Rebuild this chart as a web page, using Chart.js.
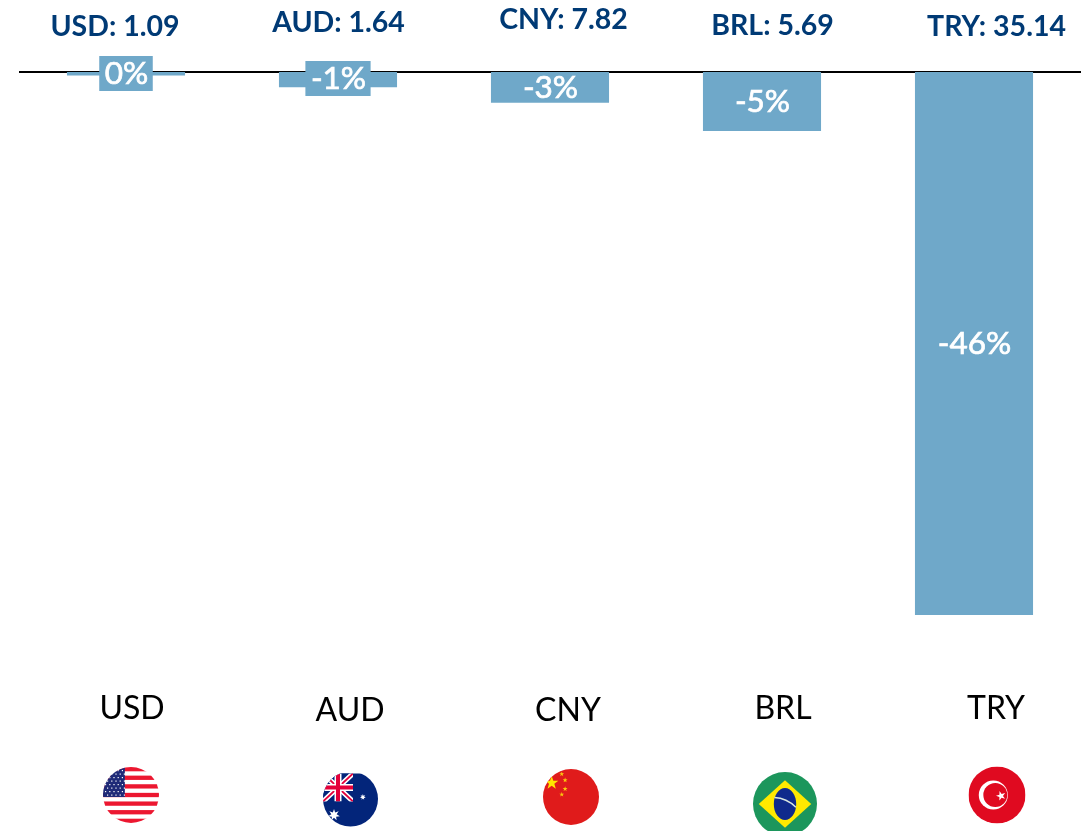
<!DOCTYPE html>
<html><head><meta charset="utf-8">
<style>html,body{margin:0;padding:0;background:#fff}canvas{display:block}</style>
<script src="https://cdn.jsdelivr.net/npm/chart.js@4"></script>
</head><body><canvas id="c" width="1089" height="831"></canvas>
<script>
const categories = ["USD","AUD","CNY","BRL","TRY"];
const values = [-0.3,-1.3,-2.6,-5,-46];
const percentLabels = ["0%","-1%","-3%","-5%","-46%"];
const rateLabels = ["USD: 1.09","AUD: 1.64","CNY: 7.82","BRL: 5.69","TRY: 35.14"];

const BAR = "#6fa8c9", NAVY = "#003a75";
const rateY = [27,23,20,26,27], rateDX = [-11,0.5,13.5,10.5,22.5];
const pctY = [74,79,88,102,344], pctDX = [0.5,0.5,0.5,0.5,0.5];
const catY = [709,711,711,709,709], catDX = [6,12,18,21,22];
const flagPos = [[131,795,28],[350.5,799,27.5],[571,797,28],[785,804,32],[997,795,28.5]];

function circle(ctx,x,y,r,fn){ctx.save();ctx.beginPath();ctx.arc(x,y,r,0,Math.PI*2);ctx.clip();fn();ctx.restore();}
function star(ctx,x,y,r,color,rot=-Math.PI/2,n=5,inner=0.4){
  ctx.fillStyle=color;ctx.beginPath();
  for(let i=0;i<n*2;i++){const a=rot+i*Math.PI/n,q=i%2?r*inner:r;ctx.lineTo(x+q*Math.cos(a),y+q*Math.sin(a));}
  ctx.closePath();ctx.fill();
}
const flags = {
 USD(ctx,x,y,r){circle(ctx,x,y,r,()=>{
   ctx.fillStyle="#fff";ctx.fillRect(x-r,y-r,2*r,2*r);
   ctx.fillStyle="#ec1730";
   const h=2*r/13;
   for(let i=0;i<13;i+=2)ctx.fillRect(x-r,y-r+i*h,2*r,h);
   ctx.fillStyle="#1f2a78";ctx.fillRect(x-r,y-r,r*0.78,r+2);
   ctx.fillStyle="#fff";
   for(let j=0;j<8;j++)for(let i=0;i<5;i++){ctx.fillRect(x-r+2+i*4.2+(j%2)*2,y-r+3+j*3.5,1.2,1.2);}
 });},
 AUD(ctx,x,y,r){circle(ctx,x,y,r,()=>{
   ctx.fillStyle="#03257a";ctx.fillRect(x-r,y-r+2,2*r,2*r);
   const L=x-r,T=y-r+2,W=30,H=28;
   ctx.fillStyle="#03257a";ctx.fillRect(L,T,W,H);
   ctx.save();ctx.beginPath();ctx.rect(L,T,W,H);ctx.clip();
   ctx.strokeStyle="#fff";ctx.lineWidth=5;ctx.beginPath();ctx.moveTo(L,T);ctx.lineTo(L+W,T+H);ctx.moveTo(L+W,T);ctx.lineTo(L,T+H);ctx.stroke();
   ctx.strokeStyle="#e4003a";ctx.lineWidth=1.8;ctx.stroke();
   ctx.strokeStyle="#fff";ctx.lineWidth=7;ctx.beginPath();ctx.moveTo(L+W/2,T);ctx.lineTo(L+W/2,T+H);ctx.moveTo(L,T+H/2);ctx.lineTo(L+W,T+H/2);ctx.stroke();
   ctx.strokeStyle="#e4003a";ctx.lineWidth=4;ctx.stroke();
   ctx.restore();
   star(ctx,x-r*0.6,y+r*0.58,6,"#fff",-Math.PI/2,7,0.45);
   star(ctx,x+r*0.45,y-r*0.07,3,"#fff",-Math.PI/2,7,0.45);
 });},
 CNY(ctx,x,y,r){circle(ctx,x,y,r,()=>{
   ctx.fillStyle="#e01b1b";ctx.fillRect(x-r,y-r,2*r,2*r);
   star(ctx,x-r*0.69,y-r*0.5,7,"#ffe600");
   [[-0.33,-0.82],[-0.21,-0.6],[-0.21,-0.29],[-0.33,-0.09]].forEach(p=>star(ctx,x+r*p[0],y+r*p[1],2.6,"#f9c80e"));
 });},
 BRL(ctx,x,y,r){circle(ctx,x,y,r,()=>{
   ctx.fillStyle="#1c965c";ctx.fillRect(x-r,y-r,2*r,2*r);
   ctx.fillStyle="#ffe900";ctx.beginPath();ctx.moveTo(x,y-r*0.74);ctx.lineTo(x+r*0.82,y);ctx.lineTo(x,y+r*0.74);ctx.lineTo(x-r*0.82,y);ctx.closePath();ctx.fill();
   ctx.fillStyle="#0f2a8c";ctx.beginPath();ctx.ellipse(x,y,r*0.35,r*0.5,0,0,Math.PI*2);ctx.fill();
   ctx.strokeStyle="#d8e6e0";ctx.lineWidth=1.5;ctx.beginPath();ctx.moveTo(x-r*0.33,y-r*0.2);ctx.quadraticCurveTo(x+r*0.05,y-r*0.18,x+r*0.34,y+r*0.1);ctx.stroke();
 });},
 TRY(ctx,x,y,r){circle(ctx,x,y,r,()=>{
   ctx.fillStyle="#e00a20";ctx.fillRect(x-r,y-r,2*r,2*r);
   ctx.fillStyle="#fff";ctx.beginPath();ctx.arc(x-r*0.13,y,r*0.51,0,Math.PI*2);ctx.fill();
   ctx.fillStyle="#e00a20";ctx.beginPath();ctx.arc(x-r*0.06,y,r*0.42,0,Math.PI*2);ctx.fill();
   star(ctx,x+r*0.14,y+r*0.03,5,"#fff",-Math.PI/2-0.3);
 });}
};

const overlay = {
  id:"overlay",
  afterDatasetsDraw(chart){
    const ctx=chart.ctx,sx=chart.scales.x;
    ctx.save();ctx.textAlign="center";ctx.textBaseline="middle";
    categories.forEach((cat,i)=>{
      const cx=sx.getPixelForValue(i);
      ctx.font="bold 28.5px Lato";ctx.fillStyle=NAVY;
      ctx.fillText(rateLabels[i],cx+rateDX[i],rateY[i]);
      ctx.font="31.5px Lato";
      const w=ctx.measureText(percentLabels[i]).width;
      if(i<2){ctx.fillStyle=BAR;ctx.fillRect(cx-w/2-5,pctY[i]-18,w+10,35);}
      ctx.fillStyle="#fff";ctx.strokeStyle="#fff";ctx.lineWidth=0.7;
      ctx.fillText(percentLabels[i],cx+pctDX[i],pctY[i]);
      ctx.strokeText(percentLabels[i],cx+pctDX[i],pctY[i]);
      ctx.font="32px Lato";ctx.fillStyle="#000";
      ctx.fillText(cat,cx+catDX[i],catY[i]);
      const f=flagPos[i];flags[cat](ctx,f[0],f[1],f[2]);
    });
    ctx.restore();
  }
};

new Chart(document.getElementById("c"),{
  type:"bar",
  data:{labels:categories,datasets:[{data:values,backgroundColor:BAR,borderWidth:0,categoryPercentage:0.557,barPercentage:1}]},
  options:{
    responsive:false,animation:false,
    layout:{padding:{left:20,right:9,top:72,bottom:216}},
    plugins:{legend:{display:false},tooltip:{enabled:false}},
    scales:{
      x:{position:{y:0},z:1,grid:{display:false,drawTicks:false},border:{display:true,color:"#000",width:2},ticks:{display:false}},
      y:{display:false,min:-46,max:0}
    }
  },
  plugins:[overlay]
});
</script></body></html>
